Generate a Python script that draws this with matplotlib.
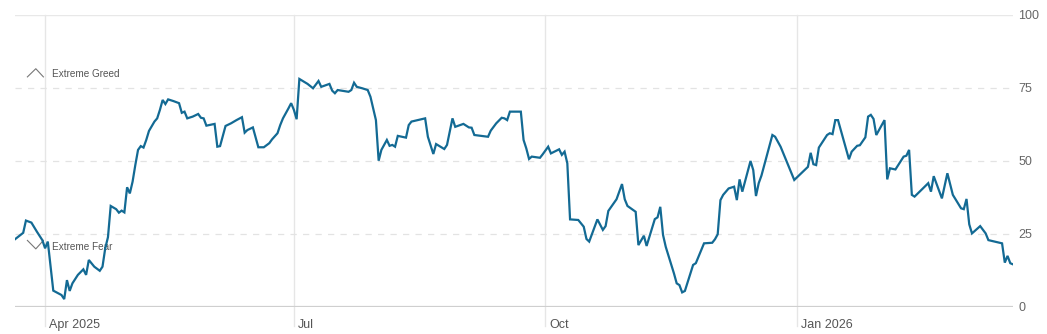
import matplotlib

matplotlib.use("Agg")

import matplotlib.pyplot as plt
import matplotlib.dates as mdates
import matplotlib.transforms as mtransforms
import pandas as pd

plt.rcParams["font.family"] = ["Liberation Sans", "DejaVu Sans"]

# Fear & Greed index (days since START_DATE, index value)
START_DATE = "2025-03-21"
days = [
    0, 3, 4, 6, 8, 10, 11, 12, 14, 17, 18, 19, 20, 21, 23, 25, 26, 27, 29, 31,
    32, 33, 34, 35, 37, 38, 39, 40, 41, 42, 43, 44, 45, 46, 47, 48, 49, 51, 52, 53,
    54, 55, 56, 58, 60, 61, 62, 63, 65, 67, 68, 69, 70, 71, 73, 74, 75, 77, 79, 81,
    83, 84, 85, 87, 89, 91, 93, 94, 96, 97, 98, 100, 101, 102, 103, 104, 107, 109, 111, 112,
    115, 116, 117, 118, 122, 123, 124, 125, 127, 129, 130, 131, 132, 133, 134, 136, 137, 138, 139, 140,
    143, 144, 145, 150, 151, 153, 154, 157, 158, 159, 160, 161, 164, 166, 167, 168, 173, 174, 176, 178,
    179, 180, 181, 185, 186, 187, 188, 189, 192, 193, 195, 196, 199, 200, 201, 202, 203, 206, 208, 209,
    210, 213, 215, 216, 217, 220, 222, 223, 224, 227, 228, 230, 231, 234, 235, 236, 237, 238, 241, 242,
    243, 244, 245, 248, 249, 252, 255, 256, 257, 258, 259, 261, 263, 264, 265, 266, 269, 270, 271, 272,
    273, 277, 278, 280, 285, 290, 291, 292, 293, 294, 297, 298, 299, 300, 301, 305, 306, 308, 309, 311,
    312, 313, 314, 315, 318, 319, 320, 322, 325, 326, 327, 328, 329, 334, 335, 336, 339, 341, 343, 346,
    347, 348, 349, 350, 353, 355, 356, 361, 362, 363, 364, 365,
]
values = [
    23.1, 25.3, 29.5, 28.8, 25.7, 22.8, 20.0, 22.3, 5.5, 4.0, 2.6, 9.1, 5.4, 8.0, 10.9, 12.8, 10.9, 16.0, 13.7, 12.3,
    13.7, 20.0, 23.8, 34.5, 33.4, 32.2, 32.9, 32.3, 40.9, 38.8, 42.8, 48.5, 53.7, 55.0, 54.5, 57.1, 60.2, 63.4, 64.5, 67.4,
    70.8, 69.4, 71.0, 70.4, 69.7, 66.4, 66.8, 64.5, 65.1, 66.0, 64.7, 64.5, 62.0, 62.2, 62.6, 54.8, 55.0, 61.9, 62.8, 63.9,
    64.9, 59.6, 60.5, 61.4, 54.6, 54.6, 56.0, 57.3, 59.4, 62.2, 64.5, 67.9, 69.7, 67.4, 64.2, 78.0, 76.3, 74.8, 77.3, 75.3,
    76.3, 74.0, 73.1, 74.2, 73.6, 74.2, 76.7, 75.3, 74.8, 74.2, 71.9, 67.9, 63.9, 50.0, 53.7, 57.1, 55.1, 55.4, 54.8, 58.5,
    57.9, 62.2, 63.4, 64.5, 58.2, 52.3, 55.7, 54.0, 55.4, 59.9, 64.5, 61.6, 62.6, 61.4, 61.3, 58.8, 58.2, 60.3, 62.8, 64.7,
    64.5, 63.9, 66.8, 66.8, 57.1, 54.2, 50.6, 51.4, 51.0, 52.2, 54.8, 52.5, 53.9, 52.0, 53.1, 49.1, 29.9, 29.7, 27.4, 23.2,
    22.3, 29.9, 26.3, 27.6, 32.8, 36.8, 42.0, 36.8, 34.5, 32.5, 21.1, 24.3, 20.8, 30.0, 30.6, 34.2, 24.6, 20.5, 11.4, 8.0,
    7.4, 4.9, 5.4, 14.3, 14.9, 21.7, 21.9, 23.1, 24.8, 36.5, 38.3, 40.5, 41.1, 36.5, 43.6, 39.4, 49.9, 46.8, 37.9, 42.3,
    44.9, 58.8, 58.2, 54.8, 43.4, 47.9, 52.7, 48.8, 48.5, 54.5, 58.8, 59.4, 59.1, 63.9, 63.9, 50.5, 53.1, 55.1, 55.3, 58.0,
    65.1, 65.7, 64.3, 58.8, 63.9, 43.6, 47.4, 47.0, 51.4, 51.7, 53.7, 38.3, 37.7, 42.3, 39.4, 44.7, 37.1, 45.7, 38.3, 33.7,
    33.4, 36.9, 28.2, 25.1, 27.6, 25.1, 22.8, 21.7, 15.1, 17.4, 14.9, 14.5,
]

month_ticks = ["2025-04-01", "2025-07-01", "2025-10-01", "2026-01-01"]
month_labels = ["Apr 2025", "Jul", "Oct", "Jan 2026"]
y_ticks = [0, 25, 50, 75, 100]

LINE_COLOR = "#136a94"
GRID_COLOR = "#e3e3e3"
TEXT_COLOR = "#666666"

dates = pd.to_datetime(START_DATE) + pd.to_timedelta(days, unit="D")
tick_dates = pd.to_datetime(month_ticks)

fig = plt.figure(figsize=(10.47, 3.34), dpi=100)
ax = fig.add_axes([15 / 1047, 27.3 / 334, 998 / 1047, 292 / 334])

# month gridlines run down through the label area
for d in tick_dates:
    ax.axvline(d, ymin=-0.065, ymax=1, color="#e6e6e6", lw=1.0, clip_on=False, zorder=1)

for yv in [25, 50, 75]:
    ax.axhline(yv, color=GRID_COLOR, lw=0.9, ls=(0, (5, 5)), zorder=1)
ax.axhline(100, color="#e8e8e8", lw=1.0, zorder=1)
ax.axhline(0, color="#cfcfcf", lw=1.6, zorder=2)

ax.plot(dates, values, color=LINE_COLOR, lw=1.6, zorder=4, solid_joinstyle="miter")

ax.set_xlim(pd.to_datetime(START_DATE), pd.to_datetime(START_DATE) + pd.Timedelta(days=365))
ax.set_ylim(0, 100)
for spine in ax.spines.values():
    spine.set_visible(False)

ax.yaxis.tick_right()
ax.set_yticks(y_ticks)
ax.set_yticklabels([str(v) for v in y_ticks])
ax.tick_params(axis="y", length=0, pad=4, labelsize=9, labelcolor=TEXT_COLOR)

ax.set_xticks(tick_dates)
ax.set_xticklabels(month_labels)
ax.xaxis.set_major_formatter(mdates.DateFormatter("%b"))
ax.set_xticklabels(month_labels)
ax.tick_params(axis="x", length=0, pad=9, labelsize=9, labelcolor="#555555")
shift = mtransforms.ScaledTranslation(4 / 100, 0, fig.dpi_scale_trans)
for lbl in ax.get_xticklabels():
    lbl.set_ha("left")
    lbl.set_transform(lbl.get_transform() + shift)

# zone markers on the left
blend = mtransforms.blended_transform_factory(ax.transAxes, ax.transData)
gx = [12.4 / 998, 20.8 / 998, 28.4 / 998]
ax.plot(gx, [78.7, 81.5, 78.7], color="#777777", lw=0.8, transform=blend, clip_on=False, zorder=3)
ax.text(36.8 / 998, 79.7, "Extreme Greed", transform=blend, fontsize=7.2,
        color="#555555", va="center", ha="left", zorder=3)
ax.plot(gx, [22.7, 19.8, 22.7], color="#777777", lw=0.8, transform=blend, clip_on=False, zorder=3)
ax.text(36.8 / 998, 20.3, "Extreme Fear", transform=blend, fontsize=7.2,
        color="#555555", va="center", ha="left", zorder=3)

fig.savefig("out.png", dpi=100)
